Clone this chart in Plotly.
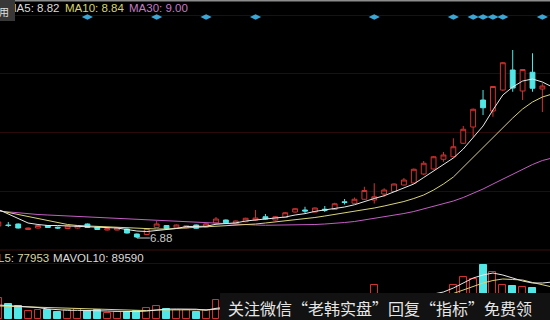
import plotly.graph_objects as go

# ---------------- data ----------------
idx = list(range(56))
opens = [7.84, 7.92, 8.00, 7.56, 7.68, 7.88, 7.74, 7.64, 7.68, 8.00,
         7.76, 7.52, 7.52, 7.60, 7.20, 7.16, 7.72, 7.88, 7.70, 7.70,
         7.92, 7.76, 8.08, 8.32, 8.02, 8.18, 8.32, 8.58, 8.32, 8.52,
         8.96, 9.12, 8.96, 9.18, 9.16, 9.78, 9.66, 9.98, 9.92, 10.40,
         10.60, 11.12, 11.28, 12.00, 12.40, 13.18, 13.38, 14.46, 15.76, 17.92,
         17.04, 18.72, 20.32, 18.64, 20.14, 18.80]
highs = [8.24, 8.16, 8.04, 7.72, 7.92, 7.92, 7.80, 7.88, 7.92, 8.04,
         7.80, 7.68, 7.72, 7.64, 7.24, 7.68, 8.24, 7.92, 7.96, 7.90,
         7.96, 8.06, 8.56, 8.36, 8.28, 8.50, 9.12, 8.80, 8.64, 8.96,
         9.28, 9.38, 9.32, 9.44, 9.70, 10.00, 10.12, 10.98, 11.26, 10.86,
         11.24, 11.68, 12.44, 13.04, 13.44, 13.76, 14.86, 15.84, 17.24, 18.72,
         19.04, 20.96, 21.92, 20.40, 21.66, 19.26]
lows = [7.76, 7.76, 7.64, 7.52, 7.64, 7.68, 7.60, 7.60, 7.64, 7.68,
        7.52, 7.48, 7.48, 7.24, 6.88, 7.12, 7.68, 7.60, 7.66, 7.66,
        7.62, 7.72, 8.04, 8.06, 7.98, 8.14, 8.28, 8.36, 8.28, 8.48,
        8.92, 8.86, 8.92, 8.96, 9.12, 9.56, 9.62, 9.94, 9.64, 10.18,
        10.56, 11.08, 11.24, 11.92, 12.36, 12.98, 13.32, 14.40, 14.98, 16.72,
        16.58, 18.64, 18.58, 17.92, 18.58, 16.96]
closes = [8.16, 7.88, 7.68, 7.68, 7.88, 7.72, 7.68, 7.84, 7.88, 7.72,
          7.56, 7.64, 7.68, 7.28, 6.96, 7.64, 8.00, 7.64, 7.92, 7.86,
          7.66, 8.02, 8.40, 8.10, 8.24, 8.46, 8.48, 8.40, 8.58, 8.90,
          9.22, 9.04, 9.28, 9.10, 9.62, 9.72, 9.98, 10.68, 10.18, 10.72,
          11.20, 11.52, 12.38, 12.86, 13.38, 13.52, 14.18, 15.58, 17.18, 17.30,
          19.00, 20.90, 18.88, 20.36, 18.86, 19.04]
volume = [124200, 88200, 79800, 48000, 54000, 54000, 43800, 54000, 60000, 48000,
          54000, 34200, 40200, 40200, 48000, 64200, 79800, 60000, 54000, 54000,
          43800, 54000, 114000, 84000, 66000, 78000, 96000, 78000, 78000, 96000,
          90000, 78000, 90000, 84000, 114000, 90000, 102000, 138000, 204000, 150000,
          144000, 138000, 150000, 150000, 144000, 138000, 204000, 253800, 238200, 324000,
          280200, 204000, 199800, 190200, 187800, 138000]

ma_idx = list(range(57))
ma5 = [9.16, 8.80, 8.40, 8.08, 7.96, 7.88, 7.88, 7.84, 7.80, 7.80,
       7.76, 7.72, 7.68, 7.56, 7.44, 7.40, 7.48, 7.52, 7.64, 7.80,
       7.82, 7.82, 7.98, 8.01, 8.09, 8.24, 8.32, 8.34, 8.43, 8.56,
       8.72, 8.83, 9.01, 9.11, 9.26, 9.36, 9.54, 9.82, 10.04, 10.26,
       10.56, 10.88, 11.20, 11.72, 12.24, 12.72, 13.28, 14.00, 14.88, 15.84,
       17.12, 18.32, 18.96, 19.44, 19.60, 19.36, 18.96]
ma10 = [9.08, 8.92, 8.76, 8.60, 8.44, 8.28, 8.12, 7.96, 7.88, 7.84,
        7.80, 7.76, 7.72, 7.68, 7.64, 7.60, 7.60, 7.60, 7.64, 7.68,
        7.72, 7.76, 7.80, 7.84, 7.88, 7.92, 8.00, 8.08, 8.16, 8.24,
        8.32, 8.40, 8.52, 8.64, 8.76, 8.88, 9.00, 9.12, 9.28, 9.44,
        9.60, 9.80, 10.04, 10.32, 10.72, 11.20, 11.76, 12.56, 13.28, 14.08,
        14.96, 15.76, 16.48, 17.20, 17.76, 18.16, 18.40]
ma30 = [9.04, 8.96, 8.88, 8.80, 8.76, 8.72, 8.68, 8.64, 8.60, 8.56,
        8.52, 8.48, 8.44, 8.40, 8.36, 8.32, 8.28, 8.24, 8.20, 8.16,
        8.12, 8.08, 8.04, 8.00, 7.96, 7.92, 7.92, 7.90, 7.90, 7.90,
        7.92, 7.94, 7.96, 8.00, 8.04, 8.12, 8.20, 8.32, 8.44, 8.56,
        8.68, 8.84, 9.00, 9.20, 9.40, 9.60, 9.84, 10.12, 10.44, 10.80,
        11.20, 11.60, 12.00, 12.40, 12.76, 13.08, 13.28]
mavol5 = [84000, 81000, 78000, 75000, 69000, 60000, 54000, 52200, 52200, 52200,
          52200, 48000, 46200, 43800, 44400, 48000, 55200, 59400, 60000, 60000,
          58800, 53000, 64000, 70000, 72000, 79000, 88000, 80000, 79000, 85000,
          88000, 84000, 86000, 88000, 91000, 91000, 96000, 106000, 130000, 133000,
          140000, 144000, 144000, 140000, 150000, 162000, 186000, 216000, 246000, 264000,
          276000, 264000, 246000, 228000, 216000, 216000, 222000]
mavol10 = [78000, 76200, 74400, 72000, 69600, 67200, 64800, 62400, 60000, 58200,
           56400, 54000, 52200, 50400, 49200, 50400, 54000, 55200, 55200, 55200,
           55200, 54000, 60000, 63000, 66000, 69000, 72000, 75000, 78000, 79200,
           81000, 82800, 84000, 85200, 87000, 90000, 93000, 99000, 111000, 117000,
           120000, 123000, 126000, 129000, 132000, 138000, 153000, 174000, 195000, 216000,
           231000, 240000, 237000, 234000, 219000, 204000, 192000]
signal_idx = [9, 16, 21, 26, 38, 46, 48, 49, 50, 51, 55]
low_idx = 14
low_val = 6.88
legend_top = ["MA5: 8.82", "MA10: 8.84", "MA30: 9.00"]
legend_vol = ["MAVOL5: 77953", "MAVOL10: 89590"]
watermark = "关注微信“老韩实盘”回复“指标”免费领"

# ---------------- style ----------------
W, H = 550, 320
RED = "#d03232"
CYAN = "#52e6e6"
GRID = "#2c0a0a"
LATIN = "Arial, Liberation Sans, sans-serif"

def px(x):
    return x / W

def py(y):
    return 1 - y / H

fig = go.Figure()
fig.add_trace(go.Candlestick(
    x=idx, open=opens, high=highs, low=lows, close=closes,
    xaxis="x", yaxis="y", whiskerwidth=0,
    increasing=dict(line=dict(color=RED, width=1), fillcolor="#000000"),
    decreasing=dict(line=dict(color=CYAN, width=1), fillcolor=CYAN),
    showlegend=False, hoverinfo="skip"))
for vals, col in [(ma30, "#c45ec4"), (ma10, "#d8d47a"), (ma5, "#e8e8e8")]:
    fig.add_trace(go.Scatter(x=ma_idx, y=vals, mode="lines", xaxis="x", yaxis="y",
                             line=dict(color=col, width=1), showlegend=False, hoverinfo="skip"))

up = [c >= o for o, c in zip(opens, closes)]
fig.add_trace(go.Bar(
    x=idx, y=volume, xaxis="x2", yaxis="y2", width=0.7,
    marker=dict(color=["#000000" if u else CYAN for u in up],
                line=dict(color=[RED if u else CYAN for u in up], width=1)),
    showlegend=False, hoverinfo="skip"))
for vals, col in [(mavol10, "#d8d47a"), (mavol5, "#e8e8e8")]:
    fig.add_trace(go.Scatter(x=ma_idx, y=vals, mode="lines", xaxis="x2", yaxis="y2",
                             line=dict(color=col, width=1), showlegend=False, hoverinfo="skip"))

fig.add_trace(go.Scatter(x=signal_idx, y=[0] * len(signal_idx), mode="markers",
                         xaxis="x", yaxis="y3",
                         marker=dict(symbol="diamond-wide", size=8, color="#3aa6d6"),
                         showlegend=False, hoverinfo="skip"))

xr = [0.162, 55.77]
price_dom = [0.21875, 1]
fig.update_layout(
    width=W, height=H, margin=dict(l=0, r=0, t=0, b=0),
    paper_bgcolor="#000000", plot_bgcolor="rgba(0,0,0,0)",
    showlegend=False, bargap=0,
    xaxis=dict(domain=[0, 1], range=xr, anchor="y", visible=False,
               rangeslider=dict(visible=False)),
    xaxis2=dict(domain=[0, 1], range=xr, anchor="y2", visible=False, matches="x"),
    yaxis=dict(domain=price_dom, range=[5.92, 25.92], anchor="x",
               tickvals=[24.72, 20.02, 15.32, 10.62], showticklabels=False,
               showgrid=True, gridcolor=GRID, gridwidth=1, zeroline=False, showline=False),
    yaxis2=dict(domain=[0, 0.21875], range=[-6000, 414000], anchor="x2",
                tickvals=[336000], showticklabels=False,
                showgrid=True, gridcolor=GRID, gridwidth=1, zeroline=False, showline=False),
    yaxis3=dict(domain=[py(22), py(12)], range=[-1, 1], anchor="x", visible=False),
    shapes=[
        dict(type="line", xref="paper", yref="paper", x0=0, x1=1, y0=price_dom[0], y1=price_dom[0],
             line=dict(color="#3a0e0e", width=1), layer="below"),
        dict(type="line", xref="paper", yref="paper", x0=0, x1=1, y0=py(0.5), y1=py(0.5),
             line=dict(color="#8c8c8c", width=2), layer="above"),
        dict(type="rect", xref="paper", yref="paper", x0=px(220), x1=1, y0=0, y1=py(293),
             fillcolor="#121212", line=dict(width=0), layer="above"),
    ],
)

ann = []
top_x = [7.2, 64.9, 129.0]
top_c = ["#dcdcdc", "#d8d46a", "#c47cc4"]
for t, x, c in zip(legend_top, top_x, top_c):
    ann.append(dict(text=t, x=px(x), y=py(7.7), xref="paper", yref="paper", xanchor="left",
                    yanchor="middle", showarrow=False, borderpad=0, borderwidth=0,
                    font=dict(family=LATIN, size=11.5, color=c)))
ann.append(dict(text=" ", x=0, y=1, xref="paper", yref="paper", xanchor="left", yanchor="top",
                width=15, height=21, bgcolor="#383838", showarrow=False, borderpad=0, borderwidth=0))
ann.append(dict(text="用", x=px(3.5), y=py(11), xref="paper", yref="paper", xanchor="center",
                yanchor="middle", showarrow=False, borderpad=0, borderwidth=0,
                font=dict(family="Noto Sans CJK SC", size=10, color="#e0e0e0")))
ann.append(dict(text=f"{low_val:.2f}", x=low_idx, y=low_val, xref="x", yref="y",
                xanchor="left", yanchor="middle", showarrow=True, ax=13, ay=0,
                arrowhead=0, arrowwidth=1, arrowcolor="#c8c8c8", borderpad=0, borderwidth=0,
                font=dict(family=LATIN, size=11.5, color="#c8c8c8")))
ann.append(dict(text=legend_vol[0], x=px(48.5), y=py(258), xref="paper", yref="paper",
                xanchor="right", yanchor="middle", showarrow=False, borderpad=0, borderwidth=0,
                font=dict(family=LATIN, size=11.5, color="#d8d6a8")))
ann.append(dict(text=legend_vol[1], x=px(52.7), y=py(258), xref="paper", yref="paper",
                xanchor="left", yanchor="middle", showarrow=False, borderpad=0, borderwidth=0,
                font=dict(family=LATIN, size=11.5, color="#dcdcdc")))
ann.append(dict(text=watermark, x=px(228), y=py(308), xref="paper", yref="paper",
                xanchor="left", yanchor="middle", showarrow=False, borderpad=0, borderwidth=0,
                font=dict(family="Noto Sans CJK SC", size=16, color="#e6e6e6")))
fig.update_layout(annotations=ann)

fig.write_html("out.html")
